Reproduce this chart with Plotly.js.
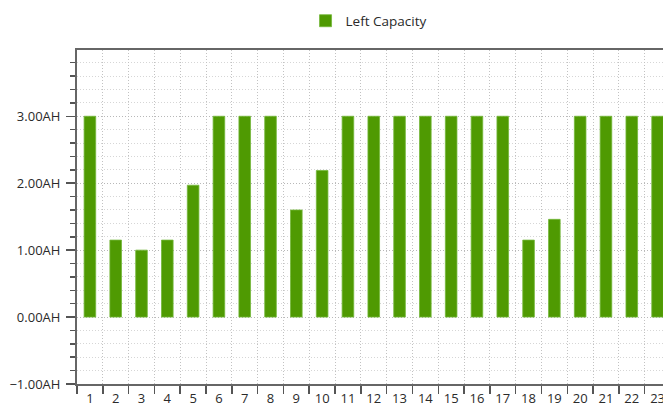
<!DOCTYPE html>
<html>
<head>
<meta charset="utf-8">
<script src="https://cdn.plot.ly/plotly-3.0.1.min.js"></script>
<style>
html,body{margin:0;padding:0;overflow:hidden;background:#fff;}
#chart{width:663px;height:409px;}
</style>
</head>
<body>
<div id="chart"></div>
<script>
const categories = ['1','2','3','4','5','6','7','8','9','10','11','12','13','14','15','16','17','18','19','20','21','22','23'];
const leftCapacity = [3.0,1.15,1.0,1.15,1.97,3.0,3.0,3.0,1.6,2.19,3.0,3.0,3.0,3.0,3.0,3.0,3.0,1.15,1.46,3.0,3.0,3.0,3.0];
const seriesName = 'Left Capacity';

const textColor = '#2a2a2a';
const fontFam = '"Open Sans", "Noto Sans", sans-serif';

const trace = {
  type: 'bar',
  x: categories,
  y: leftCapacity,
  name: seriesName,
  marker: {color: '#4f9a02', line: {color: '#74b83a', width: 0.8}},
  hoverinfo: 'x+y'
};

const layout = {
  width: 663,
  height: 409,
  margin: {l: 77, r: 0, t: 50, b: 25},
  paper_bgcolor: '#ffffff',
  plot_bgcolor: '#ffffff',
  bargap: 0.55,
  showlegend: true,
  font: {family: fontFam, size: 12, color: textColor},
  legend: {
    orientation: 'h',
    x: 0.39, xanchor: 'left',
    y: 1.087, yanchor: 'middle',
    yref: 'paper',
    font: {family: fontFam, size: 13.5, color: textColor},
    bgcolor: 'rgba(0,0,0,0)'
  },
  xaxis: {
    type: 'category',
    range: [-0.5, 22.21],
    tickson: 'boundaries',
    ticks: 'outside',
    ticklen: 8,
    tickwidth: 1.5,
    tickcolor: '#555',
    ticklabelstandoff: 1,
    showline: true,
    linecolor: '#666',
    linewidth: 2,
    mirror: true,
    showgrid: true,
    gridcolor: '#c2c2c2',
    griddash: '1px,2px',
    gridwidth: 1,
    zeroline: false,
    tickfont: {family: fontFam, size: 13, color: textColor},
    fixedrange: true
  },
  yaxis: {
    range: [-1.0, 3.99],
    tick0: 0,
    dtick: 1,
    tickformat: '.2f',
    ticksuffix: 'AH',
    ticks: 'outside',
    ticklen: 9,
    tickwidth: 1.5,
    tickcolor: '#555',
    ticklabelstandoff: 3,
    showline: true,
    linecolor: '#666',
    linewidth: 2,
    showgrid: true,
    gridcolor: '#b8b8b8',
    griddash: '1px,2px',
    gridwidth: 1,
    zeroline: false,
    tickfont: {family: fontFam, size: 13, color: textColor},
    minor: {
      dtick: 0.2,
      ticks: 'outside',
      ticklen: 5,
      tickwidth: 1.5,
      tickcolor: '#555',
      showgrid: true,
      gridcolor: '#d6d6d6',
      griddash: '1px,2px',
      gridwidth: 1
    },
    fixedrange: true
  }
};

Plotly.newPlot('chart', [trace], layout, {displayModeBar: false, staticPlot: true});
</script>
</body>
</html>
